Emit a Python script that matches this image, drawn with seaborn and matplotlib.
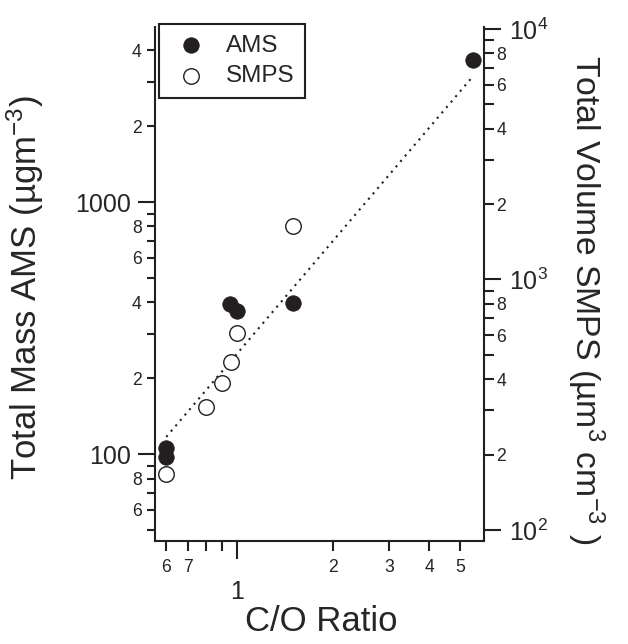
import matplotlib
matplotlib.use('Agg')
import matplotlib.pyplot as plt
import seaborn as sns
from matplotlib.ticker import FixedLocator, FixedFormatter

# Values
co_ams = [0.60, 0.60, 0.95, 1.00, 1.50, 5.50]
mass_ams = [106, 97, 394, 369, 397, 3650]          # ug m-3 (left axis)

co_smps = [0.60, 0.80, 0.90, 0.955, 1.00, 1.50]
vol_smps = [167, 309, 385, 467, 613, 1640]         # um3 cm-3 (right axis)

# dotted power-law fit (left axis units), end points
fit_co = [0.60, 5.50]
fit_mass = [117, 3160]

x_major = [1]
x_major_labels = ['1']
x_minor = [0.6, 0.7, 0.8, 0.9, 2, 3, 4, 5]
x_minor_labels = ['6', '7', '', '', '2', '3', '4', '5']

yl_major = [100, 1000]
yl_major_labels = ['100', '1000']
yl_minor = [50, 60, 70, 80, 90, 200, 300, 400, 500, 600, 700, 800, 900, 2000, 3000, 4000, 5000]
yl_minor_labels = ['', '6', '', '8', '', '2', '', '4', '', '6', '', '8', '', '2', '', '4', '']

yr_major = [100, 1000, 10000]
yr_major_labels = ['$10^{2}$', '$10^{3}$', '$10^{4}$']
yr_minor = [200, 300, 400, 500, 600, 700, 800, 900, 2000, 3000, 4000, 5000, 6000, 7000, 8000, 9000]
yr_minor_labels = ['2', '', '4', '', '6', '', '8', '', '2', '', '4', '', '6', '', '8', '']

sns.set_style('ticks')
plt.rcParams['font.family'] = ['Liberation Sans', 'DejaVu Sans']
plt.rcParams['mathtext.fontset'] = 'custom'
plt.rcParams['mathtext.rm'] = 'Liberation Sans'
plt.rcParams['mathtext.it'] = 'Liberation Sans:italic'
plt.rcParams['mathtext.bf'] = 'Liberation Sans:bold'

ink = '#231f20'
big, small = 18, 12.7

fig = plt.figure(figsize=(6.28, 6.44), dpi=100)
ax = fig.add_axes([155 / 628, 103 / 644, 329 / 628, 514 / 644])
ax2 = ax.twinx()

ax.set_xscale('log')
ax.set_yscale('log')
ax2.set_yscale('log')
ax.set_xlim(0.553, 5.95)
ax.set_ylim(45.2, 4950)
ax2.set_ylim(90.4, 10180)

# fit line and AMS points on left axis
ax.plot(fit_co, fit_mass, color=ink, lw=1.5, linestyle=(0, (1, 2.4)), zorder=2)
sns.scatterplot(x=co_ams, y=mass_ams, ax=ax, color=ink, edgecolor=ink, s=125,
                linewidth=0.5, label='AMS', legend=False, zorder=3)
# SMPS points on right axis
sns.scatterplot(x=co_smps, y=vol_smps, ax=ax2, color='white', edgecolor=ink, s=125,
                linewidth=1.0, label='SMPS', legend=False, zorder=3)

for a in (ax, ax2):
    a.spines['top'].set_visible(False)
    for s in a.spines.values():
        s.set_linewidth(1.5)
        s.set_color(ink)
ax.spines['right'].set_visible(False)
ax2.spines['left'].set_visible(False)
ax2.spines['bottom'].set_visible(False)

# x ticks
ax.xaxis.set_major_locator(FixedLocator(x_major))
ax.xaxis.set_major_formatter(FixedFormatter(x_major_labels))
ax.xaxis.set_minor_locator(FixedLocator(x_minor))
ax.xaxis.set_minor_formatter(FixedFormatter(x_minor_labels))
ax.tick_params(axis='x', which='major', length=13, width=1.5, pad=15, labelsize=big, color=ink)
ax.tick_params(axis='x', which='minor', length=7, width=1.5, pad=6, labelsize=small, color=ink)

# left y ticks
ax.yaxis.set_major_locator(FixedLocator(yl_major))
ax.yaxis.set_major_formatter(FixedFormatter(yl_major_labels))
ax.yaxis.set_minor_locator(FixedLocator(yl_minor))
ax.yaxis.set_minor_formatter(FixedFormatter(yl_minor_labels))
ax.tick_params(axis='y', which='major', length=12, width=1.5, pad=5, labelsize=big, color=ink)
ax.tick_params(axis='y', which='minor', length=5.5, width=1.5, pad=4, labelsize=small, color=ink)

# right y ticks
ax2.yaxis.set_major_locator(FixedLocator(yr_major))
ax2.yaxis.set_major_formatter(FixedFormatter(yr_major_labels))
ax2.yaxis.set_minor_locator(FixedLocator(yr_minor))
ax2.yaxis.set_minor_formatter(FixedFormatter(yr_minor_labels))
ax2.tick_params(axis='y', which='major', length=12, width=1.5, pad=6, labelsize=big, color=ink)
ax2.tick_params(axis='y', which='minor', length=7, width=1.5, pad=2, labelsize=small, color=ink)

ax.set_xlabel('C/O Ratio', fontsize=25)
ax.xaxis.set_label_coords(0.505, -0.125)
ax.set_ylabel('Total Mass AMS (µgm$^{-3}$)', fontsize=25)
ax.yaxis.set_label_coords(-0.33, 0.494)
ax2.set_ylabel('Total Volume SMPS (µm$^{3}$ cm$^{-3}$ )', fontsize=24.3, rotation=270, va='bottom')
ax2.yaxis.set_label_coords(1.245, 0.47)

h1, l1 = ax.get_legend_handles_labels()
h2, l2 = ax2.get_legend_handles_labels()
leg = ax2.legend(h1 + h2, l1 + l2, loc='upper left', bbox_to_anchor=(0.012, 1.006),
                 borderaxespad=0, fontsize=17.5, frameon=True, fancybox=False,
                 framealpha=1, edgecolor=ink, labelspacing=0.35, handlelength=1.75,
                 handletextpad=0.55, borderpad=0.45)
leg.get_frame().set_linewidth(1.5)

fig.savefig('out.png', dpi=100)
